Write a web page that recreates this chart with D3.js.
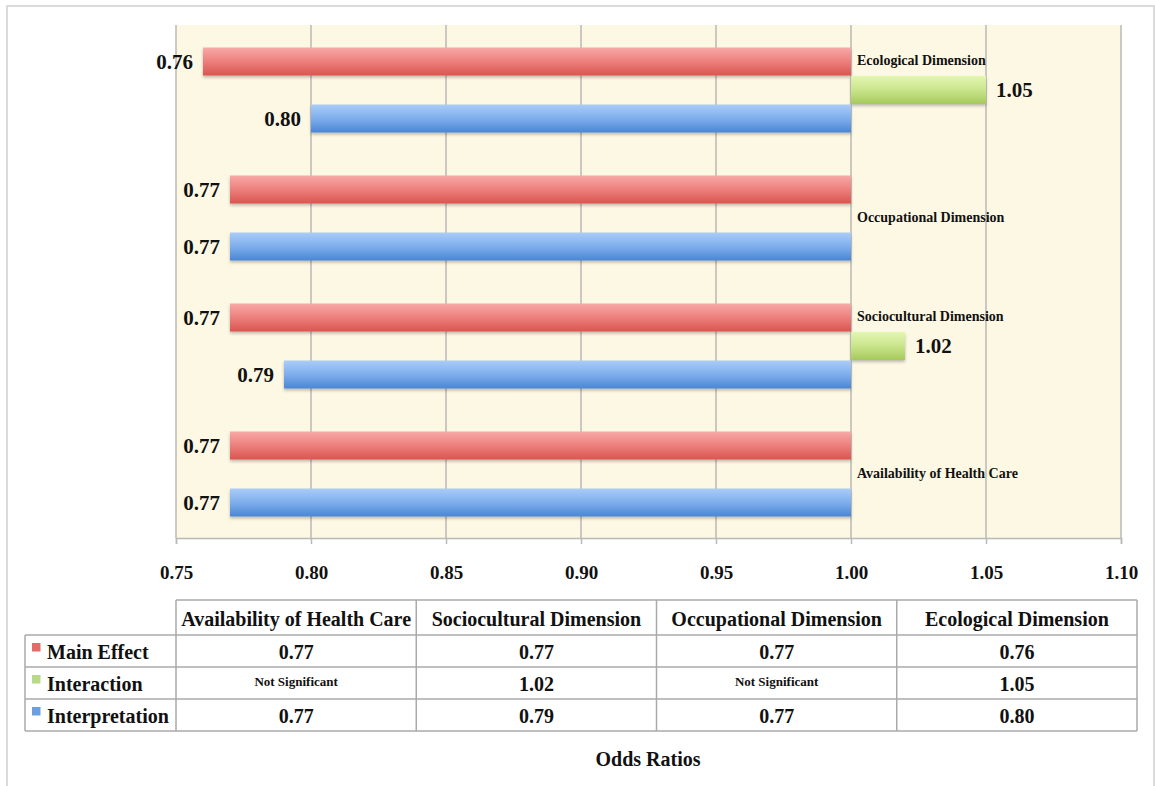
<!DOCTYPE html>
<html>
<head>
<meta charset="utf-8">
<script src="https://cdn.jsdelivr.net/npm/d3@7"></script>
<style>
  html, body { margin: 0; padding: 0; background: #fff; }
  svg { display: block; }
  text { font-family: "Liberation Serif", "Times New Roman", serif; font-weight: bold; fill: #111; }
</style>
</head>
<body>
<svg id="chart" width="1155" height="786"></svg>
<script>
// Odds ratios by dimension (table column order)
const categories = ["Availability of Health Care", "Sociocultural Dimension", "Occupational Dimension", "Ecological Dimension"];
const mainEffect = [0.77, 0.77, 0.77, 0.76];
const interaction = [null, 1.02, null, 1.05];   // null = not significant
const interpretation = [0.77, 0.79, 0.77, 0.80];
const seriesNames = ["Main Effect", "Interaction", "Interpretation"];
const tickValues = [0.75, 0.80, 0.85, 0.90, 0.95, 1.00, 1.05, 1.10];
const notSigLabel = "Not Significant";
const axisTitle = "Odds Ratios";
const baseline = 1.00;

const seriesValues = [mainEffect, interaction, interpretation];
const gradStops = [
  ["#f8aaa8", "#ec7f7c", "#d9554f"],
  ["#e3f6b0", "#c9e58c", "#a5c95b"],
  ["#abcdf8", "#7eaeec", "#4a86d4"]
];
const swatch = ["#e36b69", "#b8da86", "#6a9fe2"];

const svg = d3.select("#chart");

// outer frame
svg.append("rect").attr("x", 7).attr("y", 6).attr("width", 1147).attr("height", 800)
  .attr("fill", "none").attr("stroke", "#cfcfcf").attr("stroke-width", 1.5);

const plot = { left: 176, right: 1121, top: 25, bottom: 538 };

const x = d3.scaleLinear().domain([0.75, 1.10]).range([plot.left, plot.right]);
// chart lists groups top-down in reverse table order
const y = d3.scaleBand().domain(categories.slice().reverse()).range([plot.top + 1, plot.bottom]);
const row = d3.scaleBand().domain(d3.range(3)).range([-42.75, 42.75]);

const defs = svg.append("defs");
gradStops.forEach((s, i) => {
  const g = defs.append("linearGradient").attr("id", "grad" + i)
    .attr("x1", 0).attr("y1", 0).attr("x2", 0).attr("y2", 1);
  g.append("stop").attr("offset", "0%").attr("stop-color", s[0]);
  g.append("stop").attr("offset", "50%").attr("stop-color", s[1]);
  g.append("stop").attr("offset", "100%").attr("stop-color", s[2]);
});
const sh = defs.append("filter").attr("id", "shadow")
  .attr("x", "-5%").attr("y", "-30%").attr("width", "110%").attr("height", "170%");
sh.append("feDropShadow").attr("dx", 0).attr("dy", 2).attr("stdDeviation", 1.5)
  .attr("flood-color", "#000").attr("flood-opacity", 0.25);

// plot background
svg.append("rect").attr("x", plot.left).attr("y", plot.top)
  .attr("width", plot.right - plot.left).attr("height", plot.bottom - plot.top)
  .attr("fill", "#fdf8e4");

// vertical gridlines
svg.append("g").selectAll("line").data(tickValues).join("line")
  .attr("x1", d => x(d)).attr("x2", d => x(d))
  .attr("y1", plot.top).attr("y2", plot.bottom)
  .attr("stroke", "#b9b9b6").attr("stroke-width", 1.5);

// bottom axis
const axis = d3.axisBottom(x).tickValues(tickValues).tickFormat(d3.format(".2f"))
  .tickSize(6).tickPadding(22);
const ax = svg.append("g").attr("transform", `translate(0,${plot.bottom})`).call(axis);
ax.select(".domain").attr("stroke", "#b9b9b6").attr("stroke-width", 1.5);
ax.selectAll(".tick line").attr("stroke", "#b9b9b6").attr("stroke-width", 1.5);
ax.selectAll(".tick text").style("font-size", "19px").style("font-family", "Liberation Serif, serif")
  .style("font-weight", "bold").attr("fill", "#111");

// bars
const bars = [];
categories.forEach((c, ci) => {
  seriesValues.forEach((vals, si) => {
    if (vals[ci] != null) bars.push({ cat: c, s: si, v: vals[ci] });
  });
});
const rowY = d => y(d.cat) + y.bandwidth() / 2 + row(d.s) ;
const barH = 28;

svg.append("g").selectAll("rect").data(bars).join("rect")
  .attr("x", d => x(Math.min(d.v, baseline)))
  .attr("width", d => Math.abs(x(d.v) - x(baseline)))
  .attr("y", d => rowY(d) + (row.bandwidth() - barH) / 2)
  .attr("height", barH)
  .attr("fill", d => `url(#grad${d.s})`)
  .attr("filter", "url(#shadow)");

// value labels
svg.append("g").selectAll("text").data(bars).join("text")
  .attr("x", d => d.v < baseline ? x(d.v) - 10 : x(d.v) + 10)
  .attr("y", d => rowY(d) + row.bandwidth() / 2)
  .attr("dy", "0.35em")
  .attr("text-anchor", d => d.v < baseline ? "end" : "start")
  .style("font-size", "21px")
  .text(d => d3.format(".2f")(d.v));

// category labels next to the 1.00 crossing
svg.append("g").selectAll("text").data(categories).join("text")
  .attr("x", x(baseline) + 6)
  .attr("y", (c, i) => y(c) + y.bandwidth() / 2 + row(interaction[i] != null ? 0 : 1) + row.bandwidth() / 2 - 1)
  .attr("dy", "0.35em")
  .style("font-size", "14px")
  .text(c => c);

// data table
const tbl = { left: 25, colStart: 176, right: 1137, top: 600, headH: 35, rowH: 32 };
const colW = (tbl.right - tbl.colStart) / categories.length;
const lineCol = "#aaaaaa";
const t = svg.append("g");
const rowsTop = tbl.top + tbl.headH;
const tblBottom = rowsTop + tbl.rowH * 3;

// horizontal rules
t.append("line").attr("x1", tbl.colStart).attr("x2", tbl.right).attr("y1", tbl.top).attr("y2", tbl.top);
d3.range(4).forEach(i => {
  t.append("line").attr("x1", tbl.left).attr("x2", tbl.right)
    .attr("y1", rowsTop + i * tbl.rowH).attr("y2", rowsTop + i * tbl.rowH);
});
// vertical rules
t.append("line").attr("x1", tbl.left).attr("x2", tbl.left).attr("y1", rowsTop).attr("y2", tblBottom);
d3.range(categories.length + 1).forEach(i => {
  t.append("line").attr("x1", tbl.colStart + i * colW).attr("x2", tbl.colStart + i * colW)
    .attr("y1", tbl.top).attr("y2", tblBottom);
});
t.selectAll("line").attr("stroke", lineCol).attr("stroke-width", 1.5);

// header
t.selectAll("text.head").data(categories).join("text").attr("class", "head")
  .attr("x", (c, i) => tbl.colStart + (i + 0.5) * colW)
  .attr("y", tbl.top + tbl.headH / 2 + 1).attr("dy", "0.35em")
  .attr("text-anchor", "middle").style("font-size", "20px")
  .text(c => c);

// rows
seriesNames.forEach((name, si) => {
  const cy = rowsTop + (si + 0.5) * tbl.rowH;
  t.append("rect").attr("x", 32).attr("y", cy - 8).attr("width", 8.5).attr("height", 8.5)
    .attr("fill", swatch[si]);
  t.append("text").attr("x", 47).attr("y", cy + 1).attr("dy", "0.35em")
    .style("font-size", "20px").text(name);
  seriesValues[si].forEach((v, ci) => {
    t.append("text")
      .attr("x", tbl.colStart + (ci + 0.5) * colW)
      .attr("y", v == null ? cy - 2 : cy + 1).attr("dy", "0.35em")
      .attr("text-anchor", "middle")
      .style("font-size", v == null ? "13px" : "20px")
      .text(v == null ? notSigLabel : d3.format(".2f")(v));
  });
});

// axis title
svg.append("text").attr("x", 648).attr("y", 759).attr("dy", "0.35em")
  .attr("text-anchor", "middle").style("font-size", "20px").text(axisTitle);
</script>
</body>
</html>
